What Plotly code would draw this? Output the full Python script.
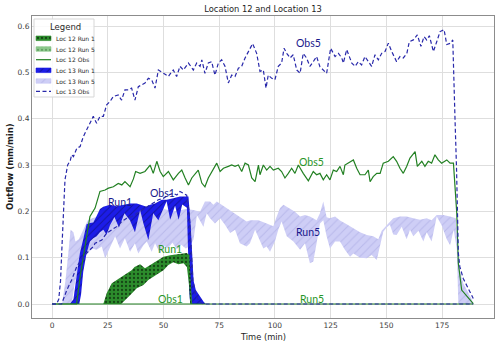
import plotly.graph_objects as go

# ---------------- data ----------------
# Location 13 observed, event 5 (dashed, upper)
t_l13_obs5 = [0, 2, 3, 3.8, 4.5, 5.1, 5.8, 7, 8.2, 8.8, 9.6, 11.1, 12.6, 14, 15.6, 17, 18.5, 20, 21.5, 23,
              24.5, 26, 27.5, 29.7, 31.2, 32.7, 34.2, 35.7, 37.2, 38.7, 40.2, 41.7, 43.2, 44.7, 46.2, 47.7,
              50, 52.2, 53.5, 54.4, 55.9, 57.4, 58.9, 61.2, 63.4, 64.9, 66.4, 67.2, 68.6, 70.1, 71.6, 73.1,
              74.6, 76.1, 77.6, 79.1, 80.6, 82.1, 83.6, 85.1, 86.6, 88.1, 90, 91.8, 93.3, 94.8, 96, 97, 98.6,
              100, 101.5, 103, 104.1, 105.3, 106.8, 108.2, 109.8, 111.3, 112.7, 114.2, 115.7, 117.2, 118.7,
              120.2, 121.7, 123.2, 125, 127, 128.5, 130, 130.7, 132.2, 134.5, 136, 137.4, 138.9, 140.4,
              141.9, 143.4, 144.9, 146.4, 147.9, 149.4, 150.9, 152.4, 154.6, 156.1, 157.6, 159.2, 160.3,
              162.1, 163.9, 165.5, 166.9, 168.1, 169.3, 171.1, 172.6, 174.1, 175.9, 177.1, 178.9, 179.8,
              180.8, 181.5, 182.3, 183, 184.5, 186, 188.3, 189]
v_l13_obs5 = [0, 0, 0.01, 0.05, 0.13, 0.2, 0.268, 0.3, 0.31, 0.322, 0.318, 0.336, 0.34, 0.361, 0.376, 0.39,
              0.405, 0.39, 0.405, 0.405, 0.43, 0.437, 0.448, 0.451, 0.44, 0.462, 0.462, 0.466, 0.44, 0.469,
              0.473, 0.477, 0.487, 0.484, 0.466, 0.505, 0.498, 0.491, 0.5, 0.505, 0.491, 0.513, 0.505, 0.52,
              0.505, 0.52, 0.513, 0.527, 0.498, 0.52, 0.523, 0.494, 0.52, 0.527, 0.513, 0.477, 0.494, 0.491,
              0.509, 0.513, 0.531, 0.545, 0.562, 0.541, 0.502, 0.505, 0.466, 0.494, 0.487, 0.484, 0.513, 0.52,
              0.552, 0.541, 0.531, 0.538, 0.505, 0.498, 0.541, 0.531, 0.513, 0.523, 0.534, 0.512, 0.505,
              0.498, 0.552, 0.534, 0.541, 0.531, 0.52, 0.549, 0.52, 0.513, 0.523, 0.516, 0.534, 0.523, 0.513,
              0.538, 0.527, 0.541, 0.545, 0.563, 0.545, 0.523, 0.534, 0.531, 0.541, 0.566, 0.57, 0.581,
              0.556, 0.577, 0.57, 0.579, 0.545, 0.566, 0.588, 0.592, 0.56, 0.563, 0.57, 0.40, 0.29, 0.11,
              0.08, 0.055, 0.04, 0.02, 0.012]

# Location 13 observed, event 1 (dashed, lower)
t_l13_obs1 = [0, 4.3, 6.6, 8.8, 11.1, 14, 17, 18.5, 19.3, 20.8, 22.3, 24.5, 26.8, 29, 31.3, 33.5, 35.8, 38,
              40.2, 42.5, 44.7, 47.7, 49.9, 52.2, 54.4, 56, 57.4, 59, 60.4, 61.5, 62.3, 63.2, 64.5, 66, 68, 189]
v_l13_obs1 = [0, 0, 0.03, 0.052, 0.081, 0.102, 0.117, 0.124, 0.131, 0.135, 0.138, 0.153, 0.16, 0.167, 0.178,
              0.185, 0.189, 0.196, 0.203, 0.21, 0.217, 0.225, 0.228, 0.235, 0.239, 0.235, 0.243, 0.239, 0.235,
              0.2, 0.12, 0.05, 0.02, 0.005, 0, 0]

# Location 12 observed, event 5 (solid green)
t_l12_obs5 = [0, 11, 12.6, 14, 15.6, 17, 19.3, 21.5, 23.8, 25.3, 27.5, 29.7, 31.3, 32.7, 35, 36.5, 37.5, 39.5,
              41.7, 44, 45.4, 47, 48.5, 49.9, 52.2, 54.4, 56.7, 58.2, 59.7, 61.2, 62.7, 64.2, 65.6, 67.2, 68.6,
              70.1, 72.4, 73.9, 75.4, 76.9, 79.1, 80.6, 82.1, 83.6, 85.1, 86.6, 88.1, 89.6, 91.1, 92.6, 93.3,
              94.8, 96.3, 97.8, 99.3, 101.5, 103, 104.5, 106, 107.5, 109, 110.5, 112.7, 115, 117.2, 118.7,
              120.2, 121.7, 123.2, 124.7, 126.2, 127.7, 129.2, 130.7, 131.4, 132.9, 135.2, 136.7, 138.2, 140.4,
              141.9, 142.7, 144.1, 145.7, 147.2, 148.6, 150.9, 153.1, 154.6, 156.1, 157.6, 159.1, 160.6, 162.9,
              163.9, 165.9, 167.3, 168.8, 170.3, 171.8, 173.3, 174.8, 177.1, 178.6, 180.1, 181.6, 182.3, 183.8,
              186.8, 189]
v_l12_obs5 = [0, 0, 0.059, 0.1, 0.145, 0.189, 0.207, 0.243, 0.246, 0.25, 0.253, 0.26, 0.257, 0.264, 0.253, 0.27,
              0.286, 0.282, 0.286, 0.3, 0.282, 0.308, 0.286, 0.275, 0.286, 0.268, 0.282, 0.289, 0.272, 0.257,
              0.272, 0.282, 0.289, 0.261, 0.253, 0.272, 0.293, 0.304, 0.286, 0.293, 0.297, 0.3, 0.297, 0.3,
              0.286, 0.304, 0.3, 0.272, 0.264, 0.3, 0.279, 0.3, 0.289, 0.297, 0.289, 0.293, 0.286, 0.272, 0.282,
              0.293, 0.282, 0.3, 0.282, 0.266, 0.286, 0.279, 0.282, 0.268, 0.279, 0.268, 0.289, 0.286, 0.297,
              0.279, 0.3, 0.304, 0.311, 0.293, 0.279, 0.279, 0.289, 0.264, 0.275, 0.282, 0.282, 0.304, 0.308,
              0.318, 0.308, 0.293, 0.282, 0.297, 0.315, 0.329, 0.297, 0.308, 0.297, 0.308, 0.304, 0.322, 0.311,
              0.304, 0.311, 0.304, 0.304, 0.196, 0.088, 0.03, 0.012, 0.001]

# Location 12 observed, event 1 (zero flow)
t_l12_obs1 = [0, 189]
v_l12_obs1 = [0, 0]

# Location 13 simulated, run 1 (band)
t_l13_run1_hi = [8, 9.6, 11, 12.5, 14, 15.5, 17, 18.5, 20, 21.5, 23, 26, 29, 32, 35, 38, 41, 42.5, 44, 46.2,
                 49.2, 51.4, 54.4, 57.4, 59.7, 61.2, 62.2, 62.8, 63.5, 64.5, 66.5, 68, 69]
v_l13_run1_hi = [0, 0.01, 0.06, 0.11, 0.14, 0.172, 0.175, 0.176, 0.19, 0.205, 0.21, 0.214, 0.211, 0.214,
                 0.217, 0.217, 0.212, 0.21, 0.214, 0.217, 0.225, 0.225, 0.228, 0.232, 0.232, 0.232, 0.17, 0.1,
                 0.05, 0.03, 0.015, 0.005, 0]
t_l13_run1_lo = [12.2, 13, 14, 15.5, 17, 18.5, 20, 21.5, 23, 24.5, 26, 28, 30, 32.5, 35, 37.2, 39.5, 41, 43.2,
                 45.4, 47.7, 49.2, 51.4, 53, 55.2, 56.8, 58.4, 60.5, 61, 61.5, 62]
v_l13_run1_lo = [0, 0.02, 0.07, 0.11, 0.135, 0.142, 0.146, 0.155, 0.16, 0.15, 0.17, 0.188, 0.165, 0.196, 0.18,
                 0.155, 0.203, 0.174, 0.138, 0.196, 0.181, 0.198, 0.222, 0.182, 0.212, 0.182, 0.215, 0.208, 0.1,
                 0.03, 0]

# Location 13 simulated, run 5 (band)
t_l13_run5_hi = [4.5, 6, 7.3, 8.3, 9.6, 10.5, 12, 14, 16, 18, 21, 25, 30, 35, 40, 45, 50, 55, 60, 63.4, 66.4,
                 68.6, 70.9, 72.4, 73.9, 76.1, 78.4, 81.3, 84.3, 87.3, 89, 92.6, 96.3, 99.3, 100.5, 102.3, 103.8,
                 106, 109, 111.3, 113.5, 115.7, 118.7, 120.2, 121.7, 123.2, 124.7, 127, 129.2, 132.2, 135.2,
                 138.2, 141.2, 144.1, 146.4, 147.9, 150.9, 153.1, 156.1, 159.1, 162.1, 165.1, 168.1, 170.3,
                 172.6, 175.5, 178.6, 181.2, 182, 183, 184.5, 186, 188.3, 188.8]
v_l13_run5_hi = [0, 0.05, 0.11, 0.16, 0.155, 0.135, 0.14, 0.16, 0.18, 0.185, 0.19, 0.195, 0.2, 0.195, 0.2, 0.2,
                 0.205, 0.2, 0.205, 0.203, 0.199, 0.221, 0.221, 0.214, 0.221, 0.214, 0.207, 0.199, 0.189, 0.178,
                 0.181, 0.181, 0.174, 0.168, 0.185, 0.207, 0.214, 0.207, 0.199, 0.189, 0.192, 0.189, 0.181,
                 0.196, 0.221, 0.187, 0.185, 0.189, 0.18, 0.172, 0.163, 0.155, 0.149, 0.146, 0.14, 0.158, 0.174,
                 0.185, 0.189, 0.189, 0.185, 0.182, 0.185, 0.181, 0.192, 0.192, 0.189, 0.185, 0.12, 0.07, 0.045,
                 0.03, 0.01, 0]
t_l13_run5_lo = [8.8, 10, 12, 14, 16, 18, 20, 22.3, 23.8, 26, 28.3, 30.5, 32.7, 35, 37.2, 38.7, 41, 42.5, 44.7,
                 46.2, 48.5, 50, 52, 54, 56, 58, 60, 62, 63.5, 65, 66.4, 67.9, 69.4, 70.9, 73.1, 75.4, 77.6,
                 79.9, 82.1, 84.3, 87.3, 88.8, 91.1, 92.6, 94.8, 96.3, 97.8, 100, 101.5, 103, 105.3, 108.3,
                 111.3, 113.5, 115.7, 117.2, 118.7, 120.2, 121.7, 123.2, 124.7, 127, 129.2, 131.4, 133.7, 135.2,
                 138.2, 141.2, 143.4, 145.7, 147.2, 148.6, 150.1, 151.6, 153.1, 154.6, 156.9, 159.1, 160.6,
                 162.1, 164.4, 166.6, 168.1, 170.3, 172.6, 174.8, 177.1, 178.6, 180.2, 181.6, 182.3]
v_l13_run5_lo = [0, 0.04, 0.08, 0.1, 0.11, 0.12, 0.117, 0.124, 0.099, 0.12, 0.146, 0.12, 0.142, 0.113, 0.131,
                 0.109, 0.127, 0.135, 0.113, 0.131, 0.109, 0.127, 0.12, 0.132, 0.118, 0.128, 0.12, 0.125, 0.14,
                 0.192, 0.181, 0.167, 0.196, 0.185, 0.174, 0.185, 0.171, 0.153, 0.16, 0.131, 0.124, 0.131, 0.16,
                 0.146, 0.12, 0.124, 0.113, 0.135, 0.16, 0.178, 0.146, 0.135, 0.117, 0.131, 0.088, 0.092, 0.131,
                 0.174, 0.181, 0.146, 0.12, 0.135, 0.135, 0.117, 0.102, 0.109, 0.1, 0.099, 0.106, 0.095, 0.124,
                 0.156, 0.165, 0.171, 0.15, 0.149, 0.167, 0.14, 0.16, 0.146, 0.158, 0.135, 0.155, 0.135, 0.189,
                 0.17, 0.14, 0.127, 0.16, 0.12, 0]

# Location 12 simulated, run 1 (band)
t_l12_run1_hi = [23, 24.5, 26.8, 29, 31.3, 33.5, 35.7, 37, 38, 39.5, 41.7, 44, 46.2, 48.5, 50, 53, 56, 59, 60.4,
                 61.6, 62.3, 62.8]
v_l12_run1_hi = [0, 0.023, 0.045, 0.052, 0.059, 0.066, 0.073, 0.08, 0.083, 0.086, 0.077, 0.084, 0.091, 0.097,
                 0.102, 0.105, 0.107, 0.108, 0.11, 0.106, 0.05, 0]
t_l12_run1_lo = [31, 33, 35, 38, 41, 43.2, 45.4, 47.7, 50, 52.2, 54.4, 56.7, 59, 60.5, 61.5, 62]
v_l12_run1_lo = [0, 0.01, 0.019, 0.034, 0.041, 0.052, 0.059, 0.066, 0.073, 0.084, 0.09, 0.086, 0.088, 0.08,
                 0.04, 0]

# Location 12 simulated, run 5 (zero band)
t_l12_run5_hi = [0, 189]
v_l12_run5_hi = [0, 0]
t_l12_run5_lo = [0, 189]
v_l12_run5_lo = [0, 0]

# text labels placed on the chart
lab_text = ["Run1", "Obs1", "Obs5", "Run5", "Run1", "Obs1", "Obs5", "Run5"]
lab_t = [30.5, 49.5, 115, 115, 53, 53, 116.5, 116.5]
lab_v = [0.221, 0.24, 0.563, 0.156, 0.119, 0.01, 0.307, 0.01]
lab_loc = [13, 13, 13, 13, 12, 12, 12, 12]

legend_names = ["Loc 12 Run 1", "Loc 12 Run 5", "Loc 12 Obs", "Loc 13 Run 1", "Loc 13 Run 5", "Loc 13 Obs"]

x_ticks = [0, 25, 50, 75, 100, 125, 150, 175]
y_ticks = [0.0, 0.1, 0.2, 0.3, 0.4, 0.5, 0.6]

# ---------------- styles ----------------
C_BLUE = "rgb(28,28,232)"
C_BLUE_HATCH = "rgb(12,12,80)"
C_LAV = "rgb(206,206,246)"
C_LAV_HATCH = "rgb(165,165,225)"
C_GREEN_BAND = "rgb(44,140,44)"
C_GREEN_BAND5 = "rgb(140,200,140)"
C_GREEN_LINE = "rgb(34,128,34)"
C_DASH = "rgb(40,40,170)"
C_LAB_BLUE = "rgb(24,24,140)"
C_LAB_GREEN = "rgb(40,150,40)"

FONT = "DejaVu Sans"


def polygon(t_hi, v_hi, t_lo, v_lo):
    return list(t_hi) + list(t_lo)[::-1], list(v_hi) + list(v_lo)[::-1]


fig = go.Figure()

pat_l13_run5 = dict(shape="/", bgcolor=C_LAV, fgcolor=C_LAV_HATCH, size=6, solidity=0.18)
pat_l13_run1 = dict(shape="/", bgcolor=C_BLUE, fgcolor=C_BLUE_HATCH, size=5, solidity=0.2)
pat_l12_run1 = dict(shape=".", bgcolor=C_GREEN_BAND, fgcolor="black", size=4, solidity=0.25)
pat_l12_run5 = dict(shape=".", bgcolor=C_GREEN_BAND5, fgcolor="rgb(60,120,60)", size=4, solidity=0.25)

x, y = polygon(t_l13_run5_hi, v_l13_run5_hi, t_l13_run5_lo, v_l13_run5_lo)
fig.add_trace(go.Scatter(x=x, y=y, fill="toself", mode="lines", line=dict(width=0, color=C_LAV),
                         fillcolor=C_LAV, fillpattern=pat_l13_run5, name="Loc 13 Run 5", showlegend=False))
x, y = polygon(t_l13_run1_hi, v_l13_run1_hi, t_l13_run1_lo, v_l13_run1_lo)
fig.add_trace(go.Scatter(x=x, y=y, fill="toself", mode="lines", line=dict(width=0, color=C_BLUE),
                         fillcolor=C_BLUE, fillpattern=pat_l13_run1, name="Loc 13 Run 1", showlegend=False))
x, y = polygon(t_l12_run5_hi, v_l12_run5_hi, t_l12_run5_lo, v_l12_run5_lo)
fig.add_trace(go.Scatter(x=x, y=y, fill="toself", mode="lines", line=dict(width=0, color=C_GREEN_BAND5),
                         fillcolor=C_GREEN_BAND5, fillpattern=pat_l12_run5, name="Loc 12 Run 5", showlegend=False))
x, y = polygon(t_l12_run1_hi, v_l12_run1_hi, t_l12_run1_lo, v_l12_run1_lo)
fig.add_trace(go.Scatter(x=x, y=y, fill="toself", mode="lines", line=dict(width=0, color=C_GREEN_BAND),
                         fillcolor=C_GREEN_BAND, fillpattern=pat_l12_run1, name="Loc 12 Run 1", showlegend=False))

fig.add_trace(go.Scatter(x=t_l12_obs1, y=v_l12_obs1, mode="lines", line=dict(color=C_GREEN_LINE, width=1.2),
                         name="Loc 12 Obs", showlegend=False))
fig.add_trace(go.Scatter(x=t_l12_obs5, y=v_l12_obs5, mode="lines", line=dict(color=C_GREEN_LINE, width=1.2),
                         name="Loc 12 Obs", showlegend=False))
fig.add_trace(go.Scatter(x=t_l13_obs1, y=v_l13_obs1, mode="lines",
                         line=dict(color=C_DASH, width=1.2, dash="4px,2.5px"),
                         name="Loc 13 Obs", showlegend=False))
fig.add_trace(go.Scatter(x=t_l13_obs5, y=v_l13_obs5, mode="lines",
                         line=dict(color=C_DASH, width=1.2, dash="4px,2.5px"),
                         name="Loc 13 Obs", showlegend=False))

# ---- custom compact legend (overlay axes in plot-area pixel units) ----
PW, PH = 462, 302
box_x = [2, 62, 62, 2, 2]
box_y = [3, 3, 81, 81, 3]
fig.add_trace(go.Scatter(x=box_x, y=box_y, xaxis="x2", yaxis="y2", fill="toself", mode="lines",
                         fillcolor="rgba(255,255,255,0.85)", line=dict(color="rgb(215,215,215)", width=1),
                         hoverinfo="skip", showlegend=False))
item_y = [22.3, 33, 43.7, 54.3, 65, 75.3]
patch_styles = [(C_GREEN_BAND, pat_l12_run1), (C_GREEN_BAND5, pat_l12_run5), None,
                (C_BLUE, pat_l13_run1), (C_LAV, pat_l13_run5), None]
for i, yc in enumerate(item_y):
    st = patch_styles[i]
    if st is not None:
        fig.add_trace(go.Scatter(x=[4, 19, 19, 4, 4], y=[yc - 2.3, yc - 2.3, yc + 2.3, yc + 2.3, yc - 2.3],
                                 xaxis="x2", yaxis="y2", fill="toself", mode="lines",
                                 fillcolor=st[0], fillpattern=st[1], line=dict(width=0.6, color=st[0]),
                                 hoverinfo="skip", showlegend=False))
    elif i == 2:
        fig.add_trace(go.Scatter(x=[4, 19], y=[yc, yc], xaxis="x2", yaxis="y2", mode="lines",
                                 line=dict(color=C_GREEN_LINE, width=1.2), hoverinfo="skip", showlegend=False))
    else:
        fig.add_trace(go.Scatter(x=[4, 19], y=[yc, yc], xaxis="x2", yaxis="y2", mode="lines",
                                 line=dict(color=C_DASH, width=1.2, dash="4px,2.5px"),
                                 hoverinfo="skip", showlegend=False))

annotations = []
annotations.append(dict(text="Legend", x=33 / PW, y=1 - 10.5 / PH, xref="paper", yref="paper",
                        xanchor="center", yanchor="middle", showarrow=False,
                        font=dict(family=FONT, size=8.5, color="rgb(40,40,40)")))
for i, yc in enumerate(item_y):
    annotations.append(dict(text=legend_names[i], x=22 / PW, y=1 - yc / PH, xref="paper", yref="paper",
                            xanchor="left", yanchor="middle", showarrow=False,
                            font=dict(family=FONT, size=6, color="rgb(40,40,40)")))

for txt, tt, vv, loc in zip(lab_text, lab_t, lab_v, lab_loc):
    annotations.append(dict(text=txt, x=tt, y=vv, xref="x", yref="y", showarrow=False,
                            xanchor="center", yanchor="middle",
                            font=dict(family="Lato", size=10.5,
                                      color=C_LAB_BLUE if loc == 13 else C_LAB_GREEN)))

# axis titles (placed precisely)
annotations.append(dict(text="Time (min)", x=0.5, y=-(336.5 - 318) / PH, xref="paper", yref="paper",
                        xanchor="center", yanchor="middle", showarrow=False,
                        font=dict(family=FONT, size=8.3, color="rgb(30,30,30)")))
annotations.append(dict(text="<b>Outflow (mm/min)</b>", x=-(32 - 10) / PW, y=0.5, xref="paper", yref="paper",
                        xanchor="center", yanchor="middle", showarrow=False, textangle=-90,
                        font=dict(family=FONT, size=8.5, color="rgb(30,30,30)")))

fig.update_layout(
    width=500, height=347,
    margin=dict(l=32, r=6, t=16, b=29, autoexpand=False),
    paper_bgcolor="white", plot_bgcolor="white",
    showlegend=False,
    title=dict(text="Location 12 and Location 13", x=263 / 500, xanchor="center",
               y=1 - 9 / 347, yanchor="middle", yref="container",
               font=dict(family=FONT, size=8.3, color="rgb(30,30,30)")),
    xaxis=dict(range=[-9.0, 198.3], tickvals=x_ticks, ticktext=[str(v) for v in x_ticks],
               showgrid=True, gridcolor="rgb(222,222,222)", gridwidth=1, zeroline=False, automargin=False,
               showline=True, linecolor="rgb(140,140,140)", linewidth=1, mirror=True, ticks="",
               tickfont=dict(family=FONT, size=7.5, color="rgb(60,60,60)")),
    yaxis=dict(range=[-0.0302, 0.6216], tickvals=y_ticks, ticktext=["%.1f" % v for v in y_ticks],
               showgrid=True, gridcolor="rgb(222,222,222)", gridwidth=1, zeroline=False, automargin=False,
               showline=True, linecolor="rgb(140,140,140)", linewidth=1, mirror=True, ticks="",
               tickfont=dict(family=FONT, size=7.5, color="rgb(60,60,60)")),
    xaxis2=dict(overlaying="x", range=[0, PW], visible=False, fixedrange=True, automargin=False),
    yaxis2=dict(overlaying="y", range=[PH, 0], visible=False, fixedrange=True, automargin=False),
    annotations=annotations,
)

fig.write_html("out.html", config={"displayModeBar": False},
               post_script="document.body.style.margin='0';document.body.style.overflow='hidden';")
